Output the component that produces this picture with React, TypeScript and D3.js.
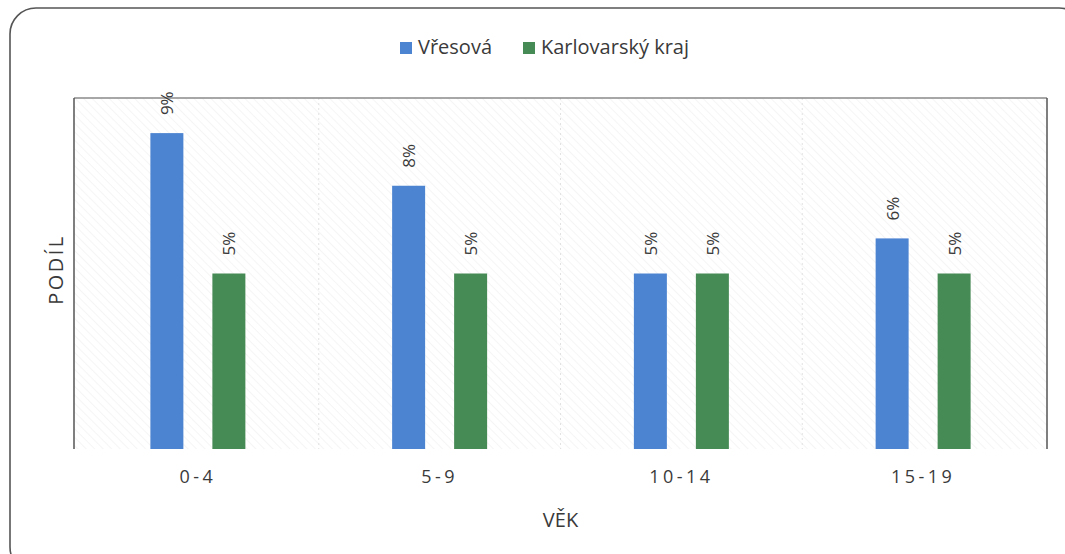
import React from "react";
import * as d3 from "d3";

const categories = ["0-4", "5-9", "10-14", "15-19"];
const seriesNames = ["Vřesová", "Karlovarský kraj"];
const vresova = [9.0, 7.5, 5.0, 6.0];
const karlovarsky = [5.0, 5.0, 5.0, 5.0];
const seriesColors = ["#4d84d2", "#468a55"];

const W = 1065;
const H = 554;
const margin = { top: 98, right: 18, bottom: 105, left: 74 };
const font = "'Open Sans', 'Noto Sans', sans-serif";
const textColor = "#3a3a3a";

export default function App() {
  const innerW = W - margin.left - margin.right;
  const innerH = H - margin.top - margin.bottom;

  const x = d3.scaleBand<string>().domain(categories).range([3, innerW - 3]).padding(0);
  const y = d3.scaleLinear().domain([0, 10]).range([innerH, 0]);

  const series = [vresova, karlovarsky];
  const barW = 33;
  const offsets = [-31, 31];

  // legend positions
  const legendX = [400, 523];

  return (
    <svg
      width={W}
      height={H}
      style={{ position: "absolute", left: 0, top: 0, background: "#fff" }}
      fontFamily={font}
    >
      <defs>
        <pattern id="hatch" width="6" height="6" patternUnits="userSpaceOnUse" patternTransform="rotate(-45)">
          <line x1="0" y1="0" x2="0" y2="6" stroke="#ececec" strokeWidth="1" />
        </pattern>
      </defs>

      {/* outer frame */}
      <rect x={10} y={8} width={1075} height={565} rx={26} fill="none" stroke="#555" strokeWidth={1.6} />

      {/* legend */}
      {seriesNames.map((name, i) => (
        <g key={name} transform={`translate(${legendX[i]},0)`}>
          <rect x={0} y={42} width={12} height={12} fill={seriesColors[i]} />
          <text x={18} y={54} fontSize={20} fill={textColor}>{name}</text>
        </g>
      ))}

      <g transform={`translate(${margin.left},${margin.top})`}>
        <rect x={0} y={0} width={innerW} height={innerH} fill="url(#hatch)" />
        {/* faint category separators */}
        {categories.slice(1).map((c) => (
          <line
            key={c}
            x1={x(c)}
            x2={x(c)}
            y1={0}
            y2={innerH}
            stroke="#e2e2e2"
            strokeDasharray="2,3"
          />
        ))}
        {/* plot border */}
        <line x1={0} x2={innerW} y1={0} y2={0} stroke="#8a8a8a" strokeWidth={1.5} />
        <line x1={0} x2={0} y1={0} y2={innerH} stroke="#555" strokeWidth={1.5} />
        <line x1={innerW} x2={innerW} y1={0} y2={innerH} stroke="#555" strokeWidth={1.5} />

        {series.map((vals, si) =>
          vals.map((v, i) => {
            const cx = (x(categories[i]) as number) + x.bandwidth() / 2 + offsets[si];
            const top = y(v);
            return (
              <g key={`${si}-${i}`}>
                <rect x={cx - barW / 2} y={top} width={barW} height={innerH - top} fill={seriesColors[si]} />
                <text
                  transform={`translate(${cx},${top - 18}) rotate(-90)`}
                  dominantBaseline="central"
                  fontSize={17}
                  fill={textColor}
                >
                  {`${Math.round(v)}%`}
                </text>
              </g>
            );
          })
        )}

        {/* category labels */}
        {categories.map((c) => (
          <text
            key={c}
            x={(x(c) as number) + x.bandwidth() / 2}
            y={innerH + 34}
            textAnchor="middle"
            fontSize={18}
            letterSpacing={3.5}
            fill={textColor}
          >
            {c}
          </text>
        ))}

        {/* axis titles */}
        <text x={innerW / 2} y={innerH + 78} textAnchor="middle" fontSize={20} fill={textColor}>
          VĚK
        </text>
        <text
          transform={`translate(${55 - margin.left},${innerH / 2 - 4}) rotate(-90)`}
          textAnchor="middle"
          dominantBaseline="central"
          fontSize={20}
          letterSpacing={2.5}
          fill={textColor}
        >
          PODÍL
        </text>
      </g>
    </svg>
  );
}
